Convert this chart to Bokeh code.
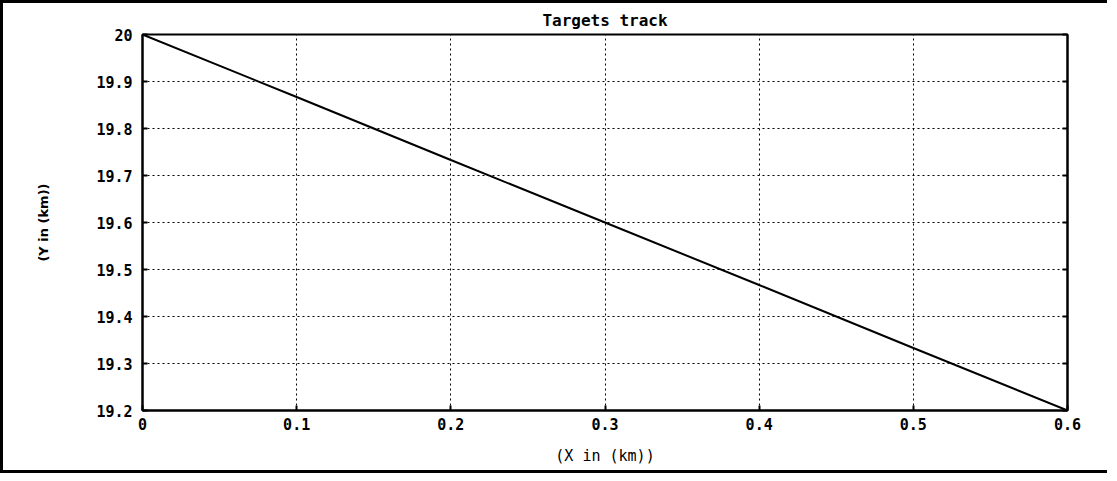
from bokeh.plotting import figure
from bokeh.models import LinearAxis, FixedTicker, Range1d
from bokeh.embed import file_html
from bokeh.resources import INLINE

# ---- data ----
x_km = [0.0, 0.1, 0.2, 0.3, 0.4, 0.5, 0.6]
y_km = [20.0, 19.867, 19.733, 19.6, 19.467, 19.333, 19.2]
x_ticks = [0, 0.1, 0.2, 0.3, 0.4, 0.5, 0.6]
y_ticks = [19.2, 19.3, 19.4, 19.5, 19.6, 19.7, 19.8, 19.9, 20]
title_text = "Targets track"
x_label = "(X in (km))"
y_label = "(Y in (km))"

MONO = "DejaVu Sans Mono"

p = figure(frame_width=925, frame_height=376,
           x_range=Range1d(0, 0.6), y_range=Range1d(19.2, 20.0),
           output_backend="svg", toolbar_location=None,
           min_border_left=139, min_border_right=40,
           min_border_top=30, min_border_bottom=60)

p.title.text = title_text
p.title.align = "center"
p.title.text_font = MONO
p.title.text_font_size = "16px"
p.title.text_font_style = "bold"
p.title.text_color = "black"
p.title.standoff = 10

p.line(x_km, y_km, line_color="black", line_width=2)

p.outline_line_color = "black"
p.outline_line_width = 2
p.background_fill_color = "white"
p.border_fill_color = "white"

for g in (p.xgrid, p.ygrid):
    g.grid_line_color = "black"
    g.grid_line_dash = "2 3"
    g.grid_line_width = 1

p.xaxis.ticker = FixedTicker(ticks=x_ticks)
p.yaxis.ticker = FixedTicker(ticks=y_ticks)
p.xgrid.ticker = FixedTicker(ticks=x_ticks)
p.ygrid.ticker = FixedTicker(ticks=y_ticks)

for ax in (p.xaxis[0], p.yaxis[0]):
    ax.axis_line_color = "black"
    ax.axis_line_width = 2
    ax.major_tick_in = 5
    ax.major_tick_out = 0
    ax.major_tick_line_width = 2
    ax.minor_tick_line_color = None
    ax.major_label_text_font = MONO
    ax.major_label_text_font_style = "bold"
    ax.major_label_text_font_size = "15px"
    ax.major_label_text_color = "black"
    ax.axis_label_text_font = MONO
    ax.axis_label_text_font_size = "15px"
    ax.axis_label_text_font_style = "normal"
    ax.axis_label_text_color = "black"

p.xaxis.axis_label = x_label
p.yaxis.axis_label = y_label
p.yaxis.axis_label_text_font = "DejaVu Sans"
p.yaxis.axis_label_text_font_style = "bold"
p.yaxis.axis_label_text_font_size = "13px"
p.xaxis.major_label_standoff = 7
p.xaxis.axis_label_standoff = 14
p.yaxis.major_label_standoff = 10
p.yaxis.axis_label_standoff = 42

ra = LinearAxis(ticker=FixedTicker(ticks=y_ticks), major_label_text_font_size="0px",
                major_tick_in=5, major_tick_out=0, major_tick_line_width=2,
                minor_tick_line_color=None, axis_line_width=2)
p.add_layout(ra, "right")

p.styles = {"border-left": "3px solid black", "border-top": "3px solid black",
            "border-bottom": "3px solid black"}

open("out.html", "w").write(file_html(p, INLINE))
